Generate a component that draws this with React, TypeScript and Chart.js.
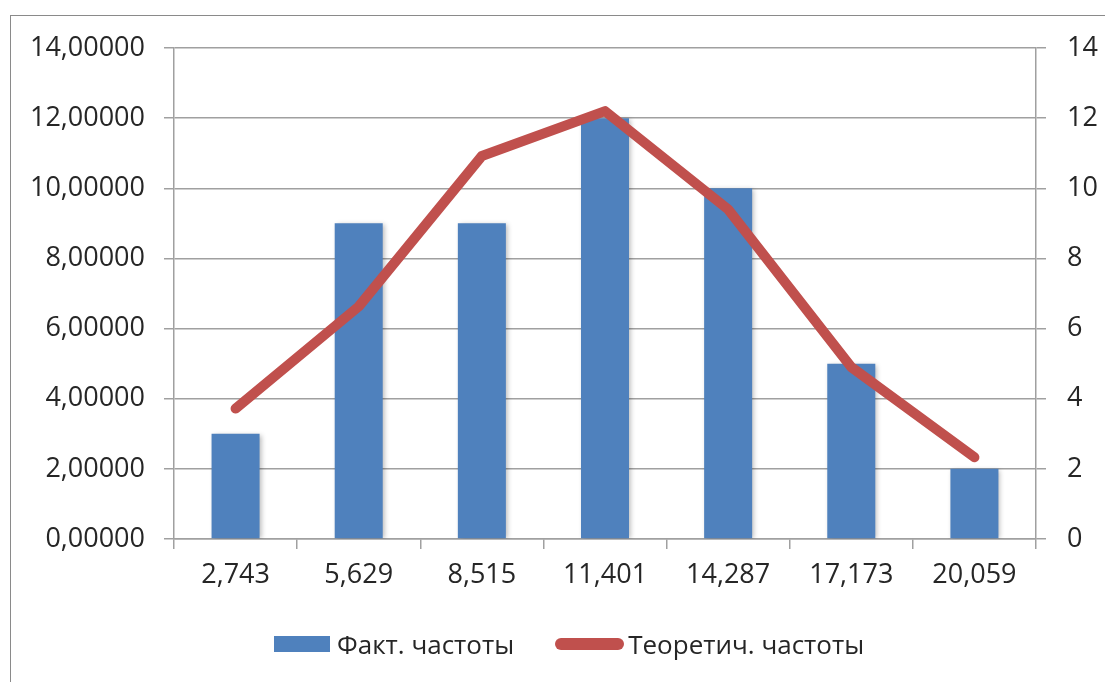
import React, { useEffect, useRef } from 'react';
import { Chart, registerables } from 'chart.js';

Chart.register(...registerables);

// Interval midpoints shown on the category axis
const categories = ['2,743', '5,629', '8,515', '11,401', '14,287', '17,173', '20,059'];
// Observed frequencies (bars)
const actualFreq = [3, 9, 9, 12, 10, 5, 2];
// Theoretical frequencies (line)
const theoreticalFreq = [3.72, 6.63, 10.92, 12.2, 9.4, 4.9, 2.33];

const seriesNames = ['Факт. частоты', 'Теоретич. частоты'];

const FONT = '"Open Sans", "Noto Sans", sans-serif';
const BLUE = '#4F81BD';
const RED = '#C0504D';
const GRID = '#a0a0a0';
const TEXT = '#262626';

const barShadow = {
  id: 'barShadow',
  beforeDatasetDraw(chart: any, args: any) {
    if (args.index === 0) {
      const c = chart.ctx;
      c.save();
      c.shadowColor = 'rgba(0,0,0,0.28)';
      c.shadowBlur = 5;
      c.shadowOffsetX = 2;
      c.shadowOffsetY = 1;
    }
  },
  afterDatasetDraw(chart: any, args: any) {
    if (args.index === 0) chart.ctx.restore();
  },
};

export default function App() {
  const canvasRef = useRef<HTMLCanvasElement>(null);

  useEffect(() => {
    document.body.style.margin = '0';
    const canvas = canvasRef.current;
    if (!canvas) return;
    const tickFont = { family: FONT, size: 27 };

    const chart = new Chart(canvas, {
      type: 'bar',
      data: {
        labels: categories,
        datasets: [
          {
            type: 'bar',
            label: seriesNames[0],
            data: actualFreq,
            backgroundColor: BLUE,
            borderWidth: 0,
            yAxisID: 'y',
            order: 2,
            barPercentage: 0.39,
            categoryPercentage: 1,
          },
          {
            type: 'line',
            label: seriesNames[1],
            data: theoreticalFreq,
            borderColor: RED,
            backgroundColor: RED,
            borderWidth: 10,
            borderCapStyle: 'round',
            borderJoinStyle: 'round',
            pointRadius: 0,
            pointHoverRadius: 0,
            tension: 0,
            fill: false,
            yAxisID: 'y1',
            order: 1,
          },
        ],
      } as any,
      options: {
        responsive: false,
        animation: false,
        maintainAspectRatio: false,
        layout: { padding: { top: 48, bottom: 83, left: 0, right: 0 } },
        plugins: {
          legend: { display: false },
          tooltip: { enabled: false },
        },
        scales: {
          x: {
            grid: {
              offset: true,
              drawOnChartArea: false,
              drawTicks: true,
              tickLength: 10,
              color: GRID,
              lineWidth: 1.5,
            },
            border: { color: GRID, width: 1.5 },
            ticks: { font: tickFont, color: TEXT, padding: 10, maxRotation: 0 },
            afterFit: (s: any) => {
              s.height = 60;
            },
          },
          y: {
            position: 'left',
            min: 0,
            max: 14,
            grid: { color: GRID, lineWidth: 1.5, tickLength: 10 },
            border: { color: GRID, width: 1.5 },
            ticks: {
              stepSize: 2,
              font: tickFont,
              color: TEXT,
              padding: 19,
              callback: (v: any) => Number(v).toFixed(5).replace('.', ','),
            },
            afterFit: (s: any) => {
              s.width = 174;
            },
          },
          y1: {
            position: 'right',
            min: 0,
            max: 14,
            grid: { drawOnChartArea: false, color: GRID, lineWidth: 1.5, tickLength: 10 },
            border: { color: GRID, width: 1.5 },
            ticks: {
              stepSize: 2,
              font: tickFont,
              color: TEXT,
              padding: 21,
              callback: (v: any) => String(v),
            },
            afterFit: (s: any) => {
              s.width = 69;
            },
          },
        },
      } as any,
      plugins: [barShadow],
    });
    return () => chart.destroy();
  }, []);

  const legendText: React.CSSProperties = {
    fontFamily: FONT,
    fontSize: 26,
    color: TEXT,
    lineHeight: '30px',
    whiteSpace: 'nowrap',
  };

  return (
    <div style={{ position: 'relative', width: 1105, height: 682, overflow: 'hidden', background: '#fff' }}>
      <div
        style={{
          position: 'absolute',
          left: 10,
          top: 15,
          width: 1200,
          height: 800,
          border: '1px solid #8a8a8a',
        }}
      />
      <canvas
        ref={canvasRef}
        width={1105}
        height={682}
        style={{ position: 'absolute', left: 0, top: 0, width: 1105, height: 682 }}
      />
      <div
        style={{
          position: 'absolute',
          left: 274,
          top: 629,
          height: 30,
          display: 'flex',
          alignItems: 'center',
        }}
      >
        <div style={{ width: 56, height: 16, background: BLUE }} />
        <span style={{ ...legendText, marginLeft: 7 }}>{seriesNames[0]}</span>
        <div style={{ width: 69, height: 12, background: RED, borderRadius: 6, marginLeft: 41 }} />
        <span style={{ ...legendText, marginLeft: 4 }}>{seriesNames[1]}</span>
      </div>
    </div>
  );
}
